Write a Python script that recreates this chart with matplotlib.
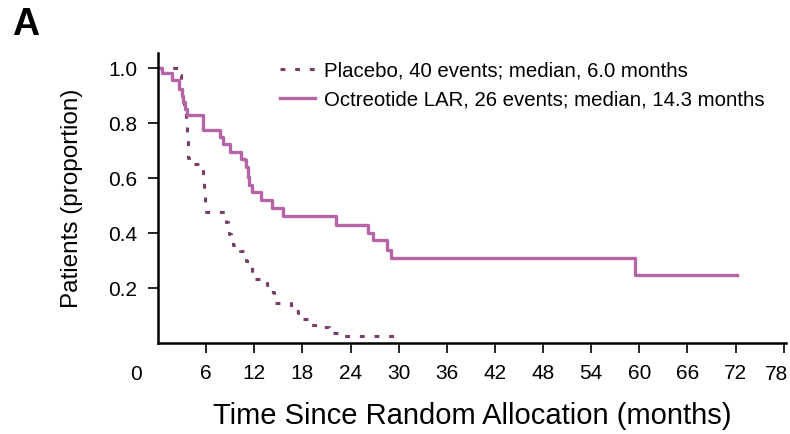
import matplotlib
matplotlib.use("Agg")
import matplotlib.pyplot as plt
import matplotlib.transforms as mtransforms

# Kaplan-Meier steps (months, proportion)
placebo_t = [0, 2.7, 2.85, 2.95, 3.05, 3.15, 3.25, 3.35, 3.45, 3.55, 3.6, 3.65,
             3.7, 3.75, 3.8, 3.85, 5.6, 5.65, 5.7, 5.75, 5.8, 5.9, 6.0, 8.3,
             8.5, 8.7, 8.9, 9.1, 9.3, 10.2, 10.8, 11.0, 11.4, 11.7, 11.8, 13.6,
             13.8, 14.4, 14.5, 16.6, 17.0, 17.5, 17.8, 18.7, 20.0, 21.3, 22.6, 30.5]
placebo_s = [1.0, 0.977, 0.953, 0.93, 0.907, 0.884, 0.86, 0.837, 0.814, 0.791,
             0.767, 0.744, 0.721, 0.698, 0.674, 0.651, 0.628, 0.605, 0.581, 0.558,
             0.535, 0.512, 0.478, 0.465, 0.442, 0.419, 0.395, 0.372, 0.356, 0.335,
             0.31, 0.30, 0.28, 0.256, 0.233, 0.21, 0.186, 0.163, 0.147, 0.128,
             0.116, 0.093, 0.086, 0.065, 0.057, 0.037, 0.027, 0.027]

octreo_t = [0, 0.5, 1.7, 2.65, 2.95, 3.15, 3.35, 3.65, 5.6, 7.7, 8.1, 9.0, 10.4,
            10.8, 11.0, 11.2, 11.4, 11.7, 12.9, 14.2, 15.6, 22.2, 26.2, 26.8,
            28.6, 29.1, 59.5, 72.2]
octreo_s = [1.0, 0.983, 0.956, 0.926, 0.90, 0.877, 0.853, 0.83, 0.775, 0.75,
            0.724, 0.696, 0.67, 0.665, 0.64, 0.605, 0.575, 0.55, 0.52, 0.49,
            0.462, 0.43, 0.40, 0.375, 0.34, 0.31, 0.248, 0.248]

legend_labels = ["Placebo, 40 events; median, 6.0 months",
                 "Octreotide LAR, 26 events; median, 14.3 months"]
x_ticks = [6, 12, 18, 24, 30, 36, 42, 48, 54, 60, 66, 72, 78]
y_ticks = [0.2, 0.4, 0.6, 0.8, 1.0]

plt.rcParams['font.family'] = ['Liberation Sans', 'DejaVu Sans']

fig = plt.figure(figsize=(7.9, 4.34), dpi=100)
ax = fig.add_axes([0.2, 0.2097, 0.795, 0.668])

ax.plot(placebo_t, placebo_s, drawstyle='steps-post', color='#7a3e6c',
        lw=2.2, linestyle=(0, (1.6, 3.2)), label=legend_labels[0])
ax.plot(octreo_t, octreo_s, drawstyle='steps-post', color='#b764a6',
        lw=2.4, label=legend_labels[1])

ax.set_xlim(0, 78.3)
ax.set_ylim(0, 1.055)
ax.set_xticks(x_ticks)
# last label is drawn separately so it stays inside the figure
ax.set_xticklabels([str(v) for v in x_ticks[:-1]] + [""])
ax.set_yticks(y_ticks)
ax.set_yticklabels(["%.1f" % v for v in y_ticks])
for s in ['top', 'right']:
    ax.spines[s].set_visible(False)
for s in ['left', 'bottom']:
    ax.spines[s].set_linewidth(1.8)
ax.tick_params(axis='both', direction='out', length=7, width=1.2, pad=8,
               labelsize=15)

trans = mtransforms.blended_transform_factory(ax.transData, ax.transAxes)
# the "0" sits at the corner, left of the axis
ax.text(-2.8, -0.077, "0", transform=trans, ha='center', va='top', fontsize=15)
ax.text(x_ticks[-1] - 0.9, -0.077, str(x_ticks[-1]), transform=trans,
        ha='center', va='top', fontsize=15)

ax.set_xlabel("Time Since Random Allocation (months)", fontsize=21, labelpad=14)
ax.set_ylabel("Patients (proportion)", fontsize=17.5, labelpad=18)

ax.legend(loc='upper left', bbox_to_anchor=(0.195, 0.972), frameon=False,
          fontsize=14.7, handlelength=1.7, borderpad=0, borderaxespad=0,
          labelspacing=0.5, handletextpad=0.45)

fig.text(0.015, 0.985, "A", fontsize=27, fontweight='bold', va='top', ha='left')

fig.savefig("out.png", dpi=100)
